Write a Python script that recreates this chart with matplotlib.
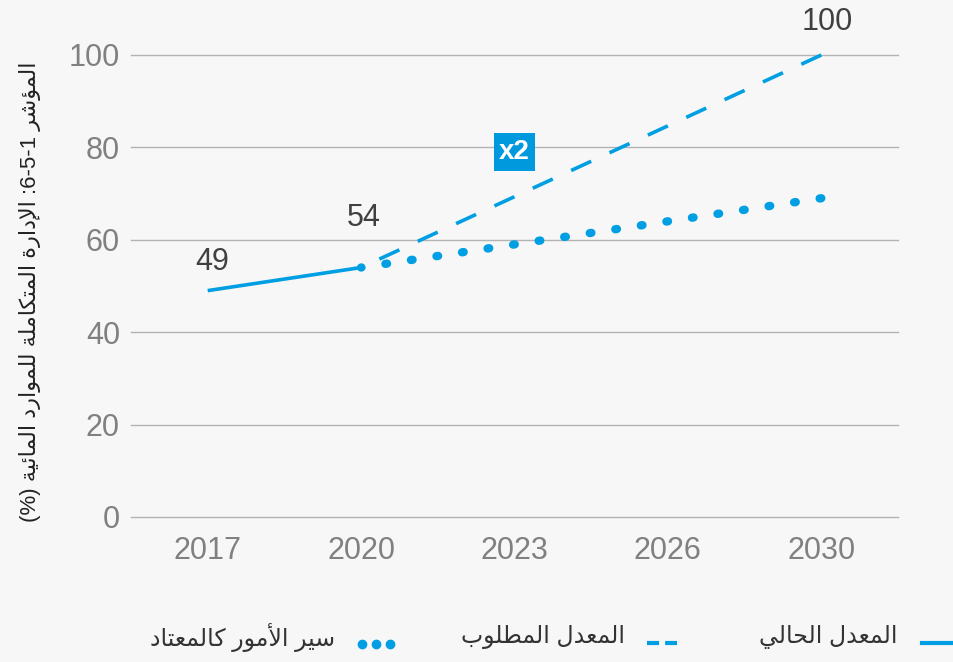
import matplotlib
matplotlib.use("Agg")
import matplotlib.pyplot as plt
from matplotlib.lines import Line2D

# chart data
years = ["2017", "2020", "2023", "2026", "2030"]
current_x = [0, 1]
current_vals = [49, 54]
required_x = [1, 4]
required_vals = [54, 100]
bau_x = [1, 4]
bau_vals = [54, 69]
y_ticks = [0, 20, 40, 60, 80, 100]

ylabel_text = "المؤشر 6-5-1: الإدارة المتكاملة للموارد المائية (%)"
legend_labels = ["المعدل الحالي", "المعدل المطلوب", "سير الأمور كالمعتاد"]

BLUE = "#009fe3"
BG = "#f7f7f7"

# --- tiny arabic shaper (matplotlib has no complex text layout) ---
# letter: (isolated, final, initial, medial); right-joining letters have 2 forms
FORMS = {
    "ا": (0xFE8D, 0xFE8E), "أ": (0xFE83, 0xFE84), "إ": (0xFE87, 0xFE88),
    "ؤ": (0xFE85, 0xFE86), "ة": (0xFE93, 0xFE94), "د": (0xFEA9, 0xFEAA),
    "ر": (0xFEAD, 0xFEAE), "و": (0xFEED, 0xFEEE),
    "ئ": (0xFE89, 0xFE8A, 0xFE8B, 0xFE8C), "ب": (0xFE8F, 0xFE90, 0xFE91, 0xFE92),
    "ت": (0xFE95, 0xFE96, 0xFE97, 0xFE98), "ح": (0xFEA1, 0xFEA2, 0xFEA3, 0xFEA4),
    "س": (0xFEB1, 0xFEB2, 0xFEB3, 0xFEB4), "ش": (0xFEB5, 0xFEB6, 0xFEB7, 0xFEB8),
    "ط": (0xFEC1, 0xFEC2, 0xFEC3, 0xFEC4), "ع": (0xFEC9, 0xFECA, 0xFECB, 0xFECC),
    "ك": (0xFED9, 0xFEDA, 0xFEDB, 0xFEDC), "ل": (0xFEDD, 0xFEDE, 0xFEDF, 0xFEE0),
    "م": (0xFEE1, 0xFEE2, 0xFEE3, 0xFEE4), "ي": (0xFEF1, 0xFEF2, 0xFEF3, 0xFEF4),
}
LAM_ALEF = {"ا": (0xFEFB, 0xFEFC), "أ": (0xFEF7, 0xFEF8), "إ": (0xFEF9, 0xFEFA)}


def shape_word(word):
    out = []
    i = 0
    prev_joins = False
    while i < len(word):
        ch = word[i]
        nxt = word[i + 1] if i + 1 < len(word) else None
        if ch == "ل" and nxt in LAM_ALEF:
            out.append(chr(LAM_ALEF[nxt][1 if prev_joins else 0]))
            prev_joins = False
            i += 2
            continue
        f = FORMS.get(ch)
        if f is None:
            out.append(ch)
            prev_joins = False
        else:
            dual = len(f) == 4
            next_joins = dual and nxt is not None and nxt in FORMS
            if prev_joins and next_joins:
                out.append(chr(f[3]))
            elif prev_joins:
                out.append(chr(f[1]))
            elif next_joins:
                out.append(chr(f[2]))
            else:
                out.append(chr(f[0]))
            prev_joins = dual
        i += 1
    return "".join(reversed(out))


def rtl(text):
    tokens = []
    for tok in text.split(" "):
        if any(c in FORMS for c in tok):
            tokens.append(shape_word(tok))
        elif tok.endswith(":"):
            tokens.append(":" + tok[:-1])
        else:
            tokens.append(tok)
    return " ".join(reversed(tokens))


plt.rcParams["font.family"] = ["Liberation Sans", "DejaVu Sans"]

W, H = 954, 662
fig = plt.figure(figsize=(W / 100, H / 100), dpi=100, facecolor=BG)
ax = fig.add_axes([131 / W, 1 - 517 / H, 767 / W, 462 / H], facecolor=BG)

ax.plot(current_x, current_vals, color=BLUE, lw=2.6, solid_capstyle="butt", zorder=3)
# drawn from the 2030 end so the pattern lands on the target point
ax.plot(required_x[::-1], required_vals[::-1], color=BLUE, lw=2.6, dashes=(6.1, 5.6),
        dash_capstyle="butt", clip_on=False, zorder=3)
ax.plot(bau_x[::-1], bau_vals[::-1], color=BLUE, lw=6, dashes=(0.2, 2.9),
        dash_capstyle="round", clip_on=False, zorder=3)

ax.set_xlim(-0.5, 4.5)
ax.set_ylim(0, 100)
ax.set_xticks(range(len(years)))
ax.set_xticklabels(years)
ax.set_yticks(y_ticks)
ax.grid(axis="y", color="#b3b3b3", lw=1)
for gl in ax.get_ygridlines():
    gl.set_clip_on(False)
ax.set_axisbelow(True)
for s in ax.spines.values():
    s.set_visible(False)
ax.tick_params(length=0, labelsize=22, labelcolor="#808080")
ax.tick_params(axis="x", pad=14)
ax.tick_params(axis="y", pad=8)

# value labels
txt_kw = dict(fontsize=22, color="#404040", ha="center", va="center")
ax.text(current_x[0] + 0.03, 55.2, str(current_vals[0]), **txt_kw)
ax.text(current_x[1] + 0.02, 64.7, str(current_vals[1]), **txt_kw)
ax.text(required_x[1] + 0.04, 107.2, str(required_vals[1]), clip_on=False, **txt_kw)

ax.text(2, 79, "x2", fontsize=20, fontweight="bold", color="white", ha="center",
        va="center", bbox=dict(boxstyle="square,pad=0.2", fc="#0099dd", ec="none"))

fig.text(30 / W, 1 - 292 / H, rtl(ylabel_text), rotation=90, fontsize=16,
         color="#222222", ha="center", va="center")

# legend drawn by hand, right to left
ly = 1 - 643 / H
ty = 1 - 637 / H
tf = fig.transFigure
fig.add_artist(Line2D([922 / W, 953 / W], [ly, ly], color=BLUE, lw=3, transform=tf))
fig.add_artist(Line2D([647 / W, 677 / W], [ly, ly], color=BLUE, lw=3,
                      dashes=(2.9, 1.45), transform=tf))
fig.add_artist(Line2D([362 / W, 376 / W, 390 / W], [1 - 644 / H] * 3, color=BLUE,
                      ls="none", marker="o", ms=6, transform=tf))
leg_right = [898, 625, 335]
for lab, xr in zip(legend_labels, leg_right):
    fig.text(xr / W, ty, rtl(lab), fontsize=17, color="#333333", ha="right", va="center")

fig.savefig("out.png", dpi=100, facecolor=BG)
